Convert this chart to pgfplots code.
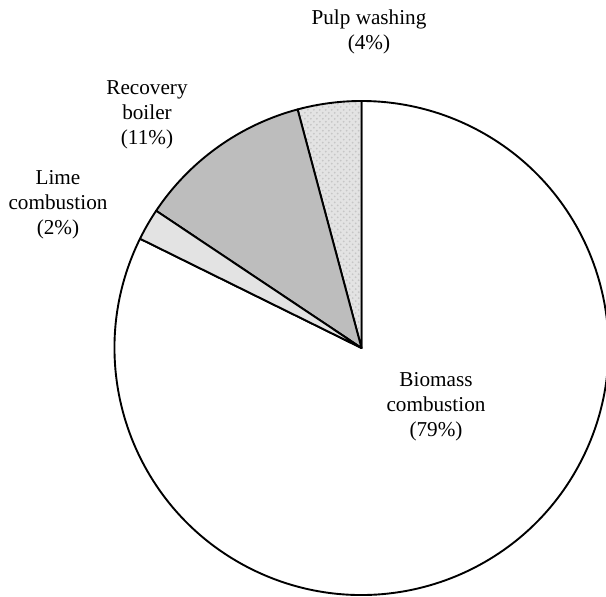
\documentclass[border=0pt]{standalone}
\usepackage{pgfplots}
\pgfplotsset{compat=1.18}
\usepackage{pgfplotstable}
\usetikzlibrary{patterns}
\usepackage{fontspec}
\setmainfont{Liberation Serif}
\begin{document}
\fontsize{10.6bp}{12.5bp}\selectfont
\begin{tikzpicture}
% shares (percent) as labelled in the chart
\def\vPulp{4}
\def\vRec{11}
\def\vLime{2}
\def\vBio{79}
\pgfmathsetmacro{\tot}{\vPulp+\vRec+\vLime+\vBio}
\pgfmathsetmacro{\aA}{90}
\pgfmathsetmacro{\aB}{\aA+(\vPulp/\tot)*360}
\pgfmathsetmacro{\aC}{\aB+(\vRec/\tot)*360}
\pgfmathsetmacro{\aD}{\aC+(\vLime/\tot)*360}
\pgfmathsetmacro{\aE}{\aD+(\vBio/\tot)*360}
\def\cx{361.5}
\def\cy{249}
\def\r{247}
\begin{axis}[
  width=303bp, height=298.5bp, scale only axis,
  xmin=0, xmax=606, ymin=0, ymax=597,
  hide axis, clip=true,
]
\path (axis cs:0,0) rectangle (axis cs:606,597);
% Biomass combustion
\filldraw[fill=white, line width=0.95pt, line join=round]
  (axis cs:\cx,\cy) -- (axis cs:{\cx+\r*cos(\aD)},{\cy+\r*sin(\aD)})
  arc[start angle=\aD, end angle=\aE, radius=\r] -- cycle;
% Pulp washing
\draw[line width=0.95pt, line join=round,
  preaction={fill=gray!22},
  preaction={pattern=crosshatch dots, pattern color=gray!45}]
  (axis cs:\cx,\cy) -- (axis cs:{\cx+\r*cos(\aA)},{\cy+\r*sin(\aA)})
  arc[start angle=\aA, end angle=\aB, radius=\r] -- cycle;
% Recovery boiler
\filldraw[fill=black!26, line width=0.95pt, line join=round]
  (axis cs:\cx,\cy) -- (axis cs:{\cx+\r*cos(\aB)},{\cy+\r*sin(\aB)})
  arc[start angle=\aB, end angle=\aC, radius=\r] -- cycle;
% Lime combustion
\filldraw[fill=black!11, line width=0.95pt, line join=round]
  (axis cs:\cx,\cy) -- (axis cs:{\cx+\r*cos(\aC)},{\cy+\r*sin(\aC)})
  arc[start angle=\aC, end angle=\aD, radius=\r] -- cycle;
\node[align=center] at (axis cs:369,565) {Pulp washing\\(4\%)};
\node[align=center] at (axis cs:147,482) {Recovery\\boiler\\(11\%)};
\node[align=center] at (axis cs:58,392) {Lime\\combustion\\(2\%)};
\node[align=center] at (axis cs:436,190) {Biomass\\combustion\\(79\%)};
\end{axis}
\end{tikzpicture}
\end{document}
